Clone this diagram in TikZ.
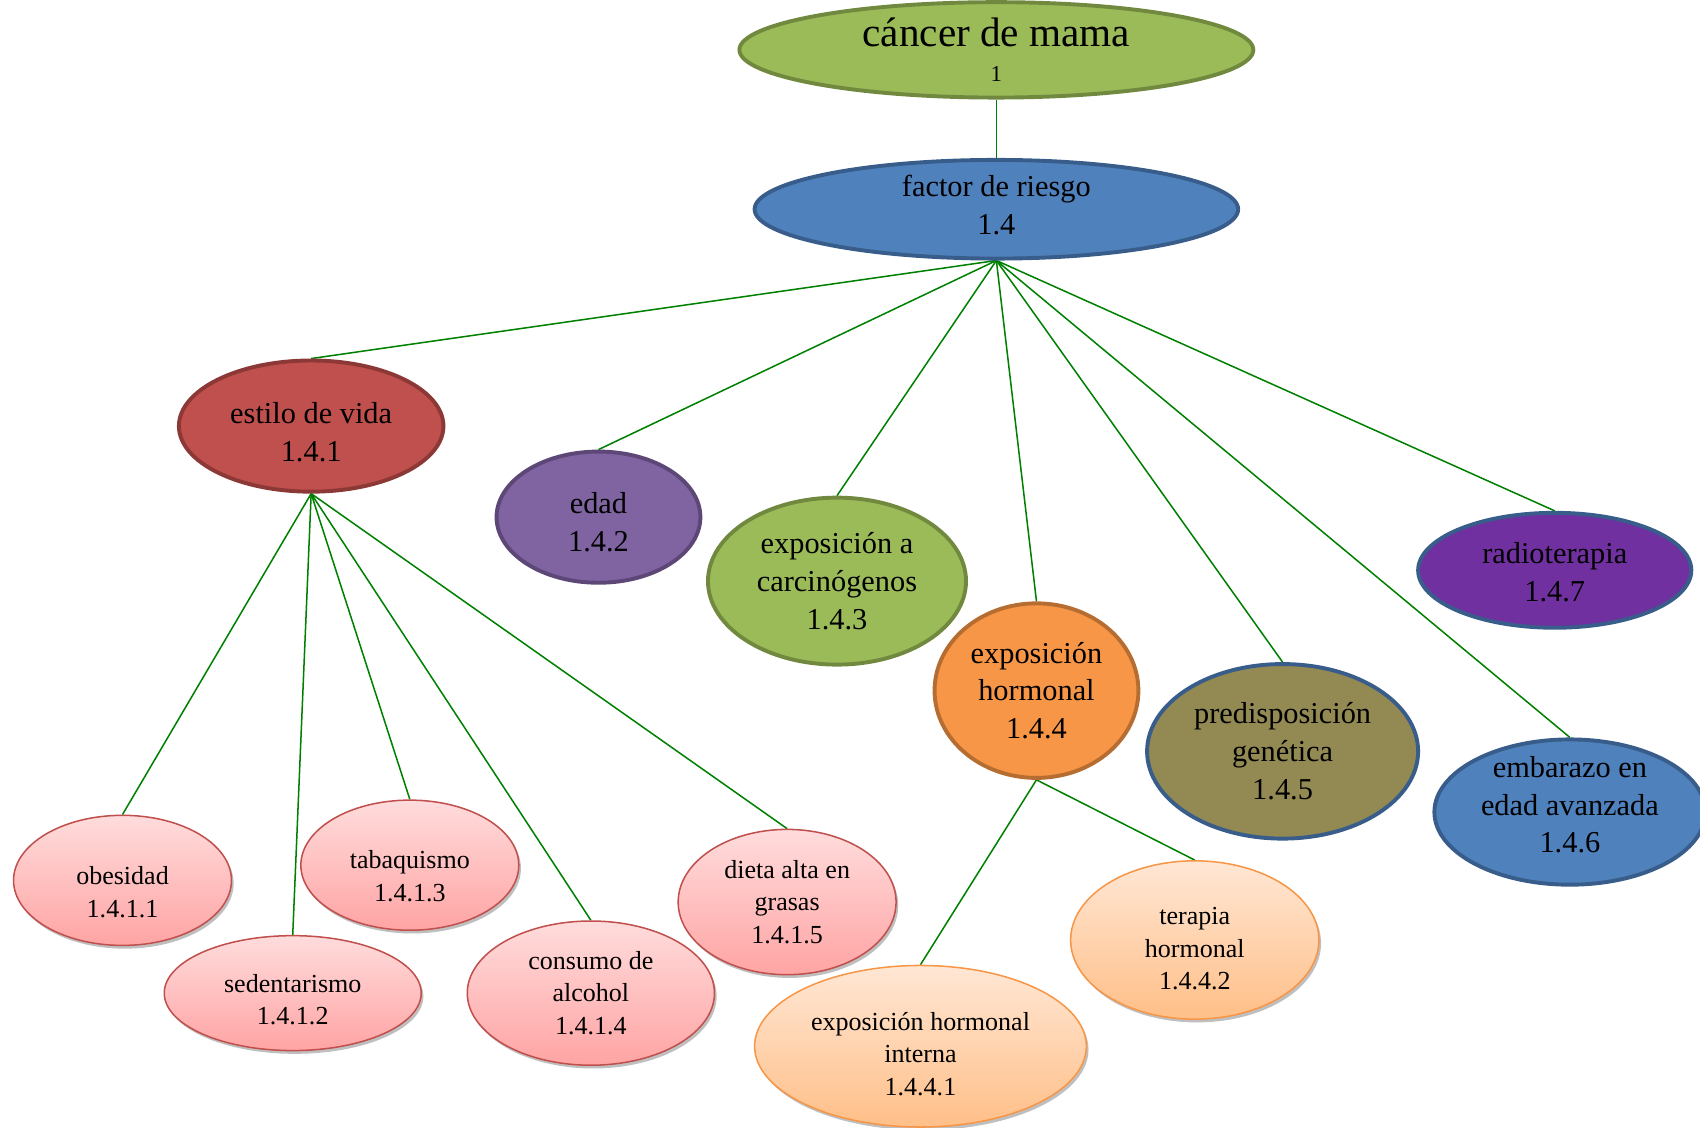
\documentclass[tikz,border=0pt]{standalone}
\usepackage{fontspec}
\setmainfont{Liberation Serif}
\usetikzlibrary{shapes.geometric,shadows,backgrounds}
\definecolor{gfill}{HTML}{9BBB59}\definecolor{gline}{HTML}{71893F}
\definecolor{bfill}{HTML}{4F81BD}\definecolor{bline}{HTML}{385D8A}
\definecolor{rfill}{HTML}{C0504D}\definecolor{rline}{HTML}{8C3836}
\definecolor{pfill}{HTML}{8064A2}\definecolor{pline}{HTML}{5C4776}
\definecolor{ofill}{HTML}{F79646}\definecolor{oline}{HTML}{B66D31}
\definecolor{olfill}{HTML}{938953}
\definecolor{vfill}{HTML}{7030A0}
\definecolor{pinktop}{HTML}{FFDCDC}\definecolor{pinkbot}{HTML}{FFA4A4}
\definecolor{orgtop}{HTML}{FFE7D5}\definecolor{orgbot}{HTML}{FFBF88}
\definecolor{conn}{HTML}{008000}
% vertical text offsets: \tp{x} adds space on top (text moves down), \bt{x} adds space below (text moves up)
\newcommand\tp[1]{\mbox{}\\[#1]}
\newcommand\bt[1]{\\[#1]\mbox{}}
\tikzset{
  ell/.style={ellipse, inner xsep=0pt, inner ysep=-10pt, align=center, text=black},
  bignode/.style={ell, line width=3.6pt, font=\fontsize{28}{35}\selectfont},
  pinknode/.style={ell, draw=rfill, line width=1.4pt, top color=pinktop, bottom color=pinkbot,
     font=\fontsize{24}{30}\selectfont,
     drop shadow={shadow xshift=2pt, shadow yshift=-3pt, opacity=0.25, fill=black}},
  orgnode/.style={ell, draw=ofill, line width=1.4pt, top color=orgtop, bottom color=orgbot,
     font=\fontsize{24}{30}\selectfont,
     drop shadow={shadow xshift=2pt, shadow yshift=-3pt, opacity=0.25, fill=black}},
  link/.style={draw=conn, line width=1.4pt},
}
\begin{document}
\begin{tikzpicture}[x=1pt,y=-1pt]
\useasboundingbox (0,0) rectangle (1568,1040);
% level 0 and 1
\node[bignode, draw=gline, fill=gfill, minimum width=474, minimum height=88] (root) at (919,46)
  {{\fontsize{38}{42}\selectfont cáncer de mama}\\[-3pt]{\fontsize{21}{24}\selectfont 1}};
\node[bignode, draw=bline, fill=bfill, minimum width=446, minimum height=91] (fr) at (919,193)
  {factor de riesgo\\1.4\bt{-27pt}};
% level 2
\node[bignode, draw=rline, fill=rfill, minimum width=244, minimum height=121] (ev) at (287,393)
  {\tp{-3.5pt}estilo de vida\\1.4.1};
\node[bignode, draw=pline, fill=pfill, minimum width=188, minimum height=121] (ed) at (552,477)
  {\tp{-5.5pt}edad\\1.4.2};
\node[bignode, draw=gline, fill=gfill, minimum width=238, minimum height=154] (ec) at (772,536)
  {exposición a\\carcinógenos\\1.4.3};
\node[bignode, draw=oline, fill=ofill, minimum width=188, minimum height=161] (eh) at (956,637)
  {exposición\\hormonal\\1.4.4};
\node[bignode, draw=bline, fill=olfill, minimum width=250, minimum height=161] (pg) at (1183,693)
  {predisposición\\genética\\1.4.5};
\node[bignode, draw=bline, fill=bfill, minimum width=250, minimum height=134] (em) at (1448,749)
  {embarazo en\\edad avanzada\\1.4.6\bt{-21pt}};
\node[bignode, draw=bline, fill=vfill, minimum width=252, minimum height=106] (rt) at (1434,526)
  {\tp{-11.5pt}radioterapia\\1.4.7};
% level 3
\node[pinknode, minimum width=201, minimum height=120] (ob) at (113,812) {\tp{8.5pt}obesidad\\1.4.1.1};
\node[pinknode, minimum width=237, minimum height=106] (se) at (270,916) {\tp{-1.5pt}sedentarismo\\1.4.1.2};
\node[pinknode, minimum width=201, minimum height=120] (ta) at (378,798) {\tp{6.5pt}tabaquismo\\1.4.1.3};
\node[pinknode, minimum width=228, minimum height=133] (co) at (545,916) {consumo de\\alcohol\\1.4.1.4};
\node[pinknode, minimum width=201, minimum height=134] (di) at (726,832) {dieta alta en\\grasas\\1.4.1.5};
\node[orgnode, minimum width=306, minimum height=149] (hi) at (849,965) {\tp{0.5pt}exposición hormonal\\interna\\1.4.4.1};
\node[orgnode, minimum width=229, minimum height=146] (th) at (1102,867) {\tp{2.5pt}terapia\\hormonal\\1.4.4.2};
% connectors
\begin{scope}[on background layer]
\draw[link] (root.south) -- (fr.north);
\foreach \n in {ev,ed,ec,eh,pg,em,rt} \draw[link] (fr.south) -- (\n.north);
\foreach \n in {ob,se,ta,co,di} \draw[link] (ev.south) -- (\n.north);
\foreach \n in {hi,th} \draw[link] (eh.south) -- (\n.north);
\end{scope}
\end{tikzpicture}
\end{document}
